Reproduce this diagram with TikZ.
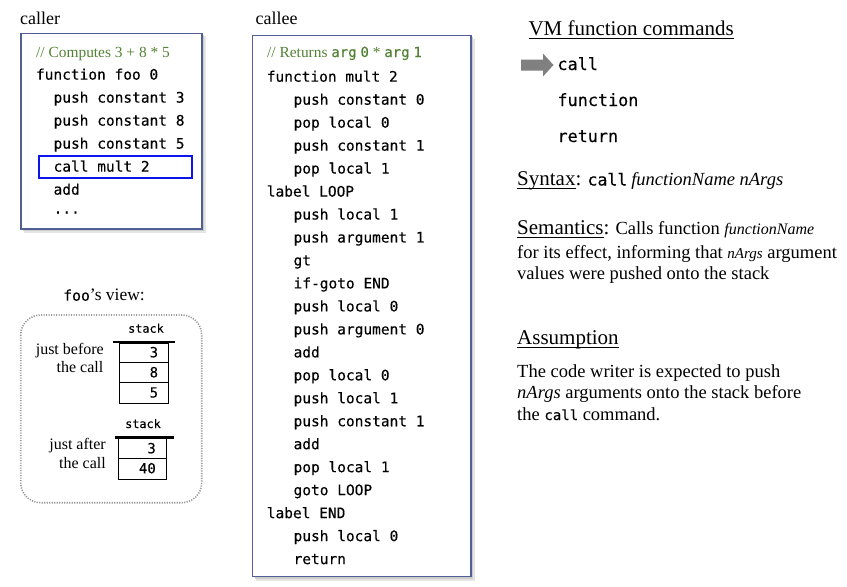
\documentclass[tikz,border=0pt]{standalone}
\usepackage{fontspec}
\setmainfont{Liberation Serif}
\newfontfamily\cfont[FakeBold=0.25]{DejaVu Sans Mono}
\definecolor{boxblue}{RGB}{80,96,150}
\definecolor{cgreen}{RGB}{84,130,53}
\definecolor{arrowgray}{RGB}{128,128,128}
\definecolor{hlblue}{RGB}{10,20,235}
\newsavebox\ulbox
\newcommand\myul[1]{\sbox\ulbox{#1}\rlap{\rule[-3.8pt]{\wd\ulbox}{1.1pt}}\usebox\ulbox}
\newcommand\myfs[1]{\fontsize{#1}{#1}\selectfont}
\begin{document}
\begin{tikzpicture}[x=1pt,y=-1pt,
  txt/.style={anchor=base west, inner sep=0pt},
  code/.style={txt, font=\cfont\myfs{14.5}},
  cmt/.style={txt, text=cgreen, font=\myfs{15.4}},
  cbox/.style={draw=boxblue, line width=1.5pt, fill=white},
  shA/.style={fill=black!10, draw=none},
  shB/.style={fill=black!20, draw=none},
  lbl/.style={anchor=base east, inner sep=0pt, font=\myfs{16}},
  stk/.style={anchor=base, inner sep=0pt, font=\cfont\myfs{11.8}},
  cell/.style={draw=black, line width=1pt, inner sep=0pt, anchor=north west},
  val/.style={anchor=base east, inner sep=0pt, font=\cfont\myfs{14}},
  body/.style={txt, font=\myfs{18.5}},
  cmd/.style={txt, font=\cfont\myfs{16.8}}]
\useasboundingbox (0,0) rectangle (847,587);

% ---------------- caller ----------------
\node[txt, font=\myfs{18}] (callerlbl) at (20,24) {caller};
\fill[shA] (24,36) rectangle (205.5,232.5);
\fill[shB] (22.5,34.5) rectangle (203.8,230.8);
\draw[cbox] (21,33.5) rectangle (202,229);
\node[cmt] (crcmt) at (36,57) {// Computes 3 + 8 * 5};
\foreach \ind/\t [count=\i from 0] in {0/function foo 0, 1/push constant 3, 1/push constant 8, 1/push constant 5, 1/call mult 2, 1/add}
  \node[code] (cr\i) at ({35.8+17.6*\ind}, {79.6+23*\i}) {\t};
\node[code] (crdots) at (53.4,213.5) {...};
\draw[hlblue, line width=2pt] (39.3,155.7) rectangle (192.3,177.7);

% ---------------- callee ----------------
\node[txt, font=\myfs{18}] (calleelbl) at (255.5,24) {callee};
\fill[shA] (256,38.5) rectangle (474.5,580.5);
\fill[shB] (254.5,37) rectangle (472.8,578.8);
\draw[cbox] (252.7,35.7) rectangle (471,576.7);
\node[cmt] (cecmt) at (267,57) {// Returns {\cfont\myfs{14}arg} {\cfont\myfs{14}0} * {\cfont\myfs{14}arg} {\cfont\myfs{14}1}};
\foreach \ind/\t [count=\i from 0] in {0/function mult 2, 1/push constant 0, 1/pop local 0, 1/push constant 1, 1/pop local 1, 0/label LOOP, 1/push local 1, 1/push argument 1, 1/gt, 1/if-goto END, 1/push local 0, 1/push argument 0, 1/add, 1/pop local 0, 1/push local 1, 1/push constant 1, 1/add, 1/pop local 1, 1/goto LOOP, 0/label END, 1/push local 0, 1/return}
  \node[code] (ce\i) at ({266.6+26.8*\ind}, {81.7+22.97*\i}) {\t};

% ---------------- foo's view ----------------
\node[txt, font=\myfs{17.5}] (fooview) at (63,300.7) {{\cfont\myfs{14.8}foo}’s view:};
\draw[gray!80, line width=1.6pt, dash pattern=on 1.2pt off 1.3pt, rounded corners=20pt] (20.7,315) rectangle (201.7,502.7);

\node[stk] (stk1) at (146,332.7) {stack};
\node[cell, minimum width=49pt, minimum height=19.5pt] (c1a) at (119.3,342.7) {};
\node[cell, minimum width=49pt, minimum height=20pt] (c1b) at (119.3,362.2) {};
\node[cell, minimum width=49pt, minimum height=20.5pt] (c1c) at (119.3,382.2) {};
\draw[line width=2.5pt] (113,342) -- (175,342);
\node[val] (v1a) at (158.3,357.3) {3};
\node[val] (v1b) at (158.3,377.3) {8};
\node[val] (v1c) at (158.3,397.5) {5};
\node[lbl] (jb1) at (104,354) {just before};
\node[lbl] (jb2) at (103.5,372.7) {the call};

\node[stk] (stk2) at (143,428) {stack};
\node[cell, minimum width=47.4pt, minimum height=20.3pt] (c2a) at (118.3,438) {};
\node[cell, minimum width=47.4pt, minimum height=20.7pt] (c2b) at (118.3,458.3) {};
\draw[line width=2.5pt] (115,437.7) -- (174,437.7);
\node[val] (v2a) at (156,453.3) {3};
\node[val] (v2b) at (156,473.3) {40};
\node[lbl] (ja1) at (106,449.3) {just after};
\node[lbl] (ja2) at (106,468.3) {the call};

% ---------------- right side ----------------
\node[txt, font=\myfs{21}] (vmhead) at (528.3,35) {\myul{VM function commands}};
\fill[arrowgray] (521,59.5) -- (543,59.5) -- (543,53.5) -- (553.5,65) -- (543,76.5) -- (543,70.5) -- (521,70.5) -- cycle;
\node[cmd] (cmdcall) at (557.3,70) {call};
\node[cmd] (cmdfunc) at (557.3,106) {function};
\node[cmd] (cmdret) at (557.3,142) {return};

\node[txt] (syntax) at (517,185.5) {\myfs{21}\myul{Syntax}:\myfs{18.5} {\cfont\myfs{16.5}call}\hspace{4pt}\itshape functionName nArgs};

\node[txt] (sem1) at (517,234) {\myfs{21}\myul{Semantics}:\myfs{18.5} Calls function {\itshape\myfs{16}functionName}};
\node[body] (sem2) at (517,258) {for its effect, informing that {\itshape\myfs{15}nArgs} argument};
\node[body] (sem3) at (517,279) {values were pushed onto the stack};

\node[txt, font=\myfs{21}] (assum) at (517,344) {\myul{Assumption}};
\node[body] (as1) at (517,377) {The code writer is expected to push};
\node[body] (as2) at (517,398) {{\itshape nArgs} arguments onto the stack before};
\node[body] (as3) at (517,420) {the {\cfont\myfs{14}call} command.};
\end{tikzpicture}
\end{document}
